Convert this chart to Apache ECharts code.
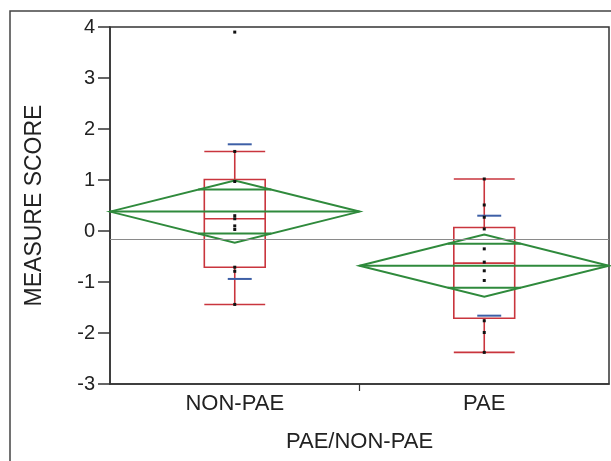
<!DOCTYPE html>
<html><head><meta charset="utf-8">
<script src="https://cdn.jsdelivr.net/npm/echarts@6/dist/echarts.min.js"></script>
<style>html,body{margin:0;padding:0;background:#fff;}#c{width:611px;height:461px;}</style>
</head><body><div id="c"></div>
<script>
const categories = ['NON-PAE', 'PAE'];
const yTicks = [-3, -2, -1, 0, 1, 2, 3, 4];
const means = [0.38, -0.68];
const ciHalf = [0.61, 0.61];
const sd = [1.32, 0.98];
const whiskerLow = [-1.44, -2.38];
const q1 = [-0.71, -1.71];
const median = [0.24, -0.63];
const q3 = [1.01, 0.07];
const whiskerHigh = [1.56, 1.02];
const grandMean = -0.16;
const pointsNonPae = [3.90, 1.56, 0.97, 0.30, 0.24, 0.10, 0.03, -0.71, -0.79, -1.44];
const pointsPae = [1.02, 0.51, 0.27, 0.04, -0.35, -0.61, -0.78, -0.97, -1.76, -1.99, -2.38];
const pointSets = [pointsNonPae, pointsPae];

const GREEN = '#2f8a3c', RED = '#c9353d', BLUE = '#3d5fa6';
const FONT = 'Liberation Sans, Arial, sans-serif';

const chart = echarts.init(document.getElementById('c'), null, {renderer: 'canvas'});

function renderItem(params, api) {
  const i = api.value(0);
  const band = api.size([1, 0])[0];
  const c = api.coord([i, means[i]]);
  const cx = c[0];
  const y = v => api.coord([i, v])[1];
  const half = band / 2;
  const children = [];
  const ym = y(means[i]), yt = y(means[i] + ciHalf[i]), yb = y(means[i] - ciHalf[i]);
  const boxHalf = band * 0.122;
  // box plot
  children.push({type: 'rect', shape: {x: cx - boxHalf, y: y(q3[i]), width: boxHalf * 2, height: y(q1[i]) - y(q3[i])},
    style: {fill: 'none', stroke: RED, lineWidth: 1.6}});
  children.push({type: 'line', shape: {x1: cx - boxHalf, y1: y(median[i]), x2: cx + boxHalf, y2: y(median[i])}, style: {stroke: RED, lineWidth: 1.6}});
  children.push({type: 'line', shape: {x1: cx, y1: y(q3[i]), x2: cx, y2: y(whiskerHigh[i])}, style: {stroke: RED, lineWidth: 1.6}});
  children.push({type: 'line', shape: {x1: cx, y1: y(q1[i]), x2: cx, y2: y(whiskerLow[i])}, style: {stroke: RED, lineWidth: 1.6}});
  children.push({type: 'line', shape: {x1: cx - boxHalf, y1: y(whiskerHigh[i]), x2: cx + boxHalf, y2: y(whiskerHigh[i])}, style: {stroke: RED, lineWidth: 1.6}});
  children.push({type: 'line', shape: {x1: cx - boxHalf, y1: y(whiskerLow[i]), x2: cx + boxHalf, y2: y(whiskerLow[i])}, style: {stroke: RED, lineWidth: 1.6}});
  // SD lines
  const sdOff = band * 0.02, sdHalf = band * 0.048;
  [means[i] + sd[i], means[i] - sd[i]].forEach(v => {
    children.push({type: 'line', shape: {x1: cx + sdOff - sdHalf, y1: y(v), x2: cx + sdOff + sdHalf, y2: y(v)}, style: {stroke: BLUE, lineWidth: 2}});
  });
  // means diamond
  children.push({type: 'polygon', shape: {points: [[cx - half, ym], [cx, yt], [cx + half, ym], [cx, yb]]},
    style: {fill: 'none', stroke: GREEN, lineWidth: 2}});
  children.push({type: 'line', shape: {x1: cx - half, y1: ym, x2: cx + half, y2: ym}, style: {stroke: GREEN, lineWidth: 2}});
  const ov = ciHalf[i] / Math.SQRT2;
  [means[i] + ov, means[i] - ov].forEach(v => {
    const frac = 1 - ov / ciHalf[i];
    const w = half * frac;
    children.push({type: 'line', shape: {x1: cx - w, y1: y(v), x2: cx + w, y2: y(v)}, style: {stroke: GREEN, lineWidth: 2}});
  });
  // points
  pointSets[i].forEach(v => {
    children.push({type: 'rect', shape: {x: cx - 1.5, y: y(v) - 1.5, width: 3, height: 3}, style: {fill: '#111'}});
  });
  // category divider tick
  if (i < categories.length - 1) {
    const yBottom = api.coord([i, -3])[1];
    children.push({type: 'line', shape: {x1: cx + half, y1: yBottom, x2: cx + half, y2: yBottom + 7}, style: {stroke: '#333', lineWidth: 1.2}});
  }
  return {type: 'group', children};
}

chart.setOption({
  animation: false,
  backgroundColor: '#fff',
  grid: {left: 110, right: 2, top: 27, bottom: 77, show: true, borderColor: '#333', borderWidth: 1.5, backgroundColor: 'transparent'},
  graphic: [{type: 'rect', shape: {x: 10, y: 11, width: 700, height: 500}, style: {fill: 'none', stroke: '#444', lineWidth: 1.5}, silent: true}],
  xAxis: {
    type: 'category', data: categories, boundaryGap: true,
    axisLine: {show: true, onZero: false, lineStyle: {color: '#333', width: 1.5}},
    axisTick: {show: false},
    axisLabel: {fontSize: 22, color: '#222', margin: 9, fontFamily: FONT},
    name: 'PAE/NON-PAE', nameLocation: 'middle', nameGap: 47,
    nameTextStyle: {fontSize: 22, color: '#222', fontFamily: FONT}
  },
  yAxis: {
    type: 'value', min: -3, max: 4, interval: 1,
    axisLine: {show: true, lineStyle: {color: '#333', width: 1.5}},
    axisTick: {show: true, length: 12, lineStyle: {color: '#333', width: 1.5}},
    splitLine: {show: false},
    axisLabel: {fontSize: 20, color: '#222', margin: 15, fontFamily: FONT,
      formatter: v => yTicks.includes(v) ? String(v) : ''},
    name: 'MEASURE SCORE', nameLocation: 'middle', nameGap: 64, nameRotate: 90,
    nameTextStyle: {fontSize: 23, color: '#222', fontFamily: FONT}
  },
  series: [{
    type: 'custom',
    renderItem: renderItem,
    data: categories.map((c, i) => [i, means[i]]),
    encode: {x: 0, y: 1},
    clip: false,
    markLine: {
      silent: true, symbol: 'none', label: {show: false},
      lineStyle: {color: '#8a8a8a', width: 1.2, type: 'solid'},
      data: [{yAxis: grandMean}]
    },
    z: 2
  }]
});
</script>
</body></html>
